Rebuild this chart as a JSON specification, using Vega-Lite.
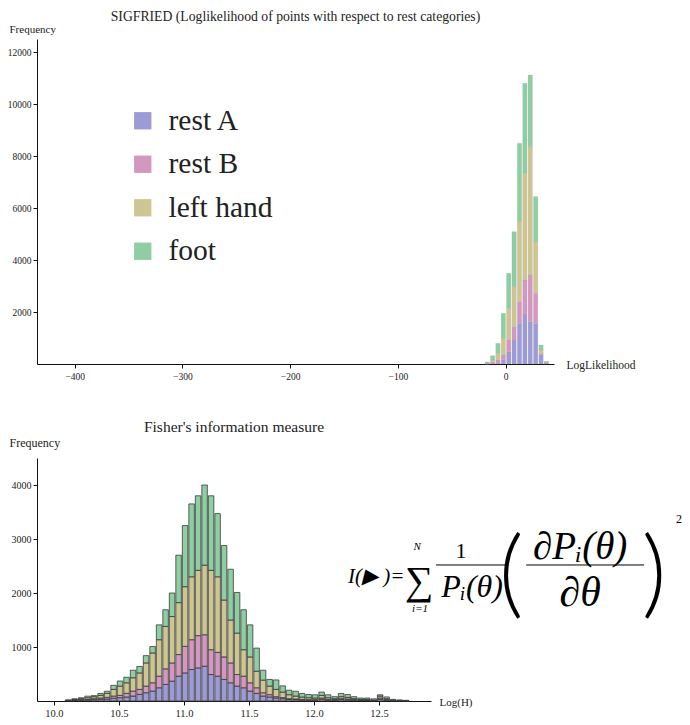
{
  "$schema": "https://vega.github.io/schema/vega-lite/v6.json",
  "padding": {"left": 7, "top": 10, "right": 5, "bottom": 5},
  "config": {
    "font": "Liberation Serif",
    "view": {"stroke": null},
    "axis": {"grid": false, "domainColor": "#111", "tickColor": "#111", "labelColor": "#222", "titleColor": "#222", "labelFont": "Liberation Serif", "titleFont": "Liberation Serif", "titleFontWeight": "normal"},
    "title": {"font": "Liberation Serif", "fontWeight": "normal", "color": "#222"}
  },
  "spacing": 38,
  "resolve": {"scale": {"color": "independent"}, "legend": {"color": "independent"}},
  "vconcat": [
    {
      "title": {"text": "SIGFRIED (Loglikelihood of points with respect to rest categories)", "offset": -1, "fontSize": 13.7},
      "width": 517,
      "height": 325,
      "data": {"values": [
        {"b": -20, "e": -15, "rest A": 0, "rest B": 5, "left hand": 15, "foot": 60},
        {"b": -15, "e": -10, "rest A": 30, "rest B": 60, "left hand": 60, "foot": 170},
        {"b": -10, "e": -5, "rest A": 30, "rest B": 130, "left hand": 250, "foot": 385},
        {"b": -5, "e": 0, "rest A": 160, "rest B": 190, "left hand": 640, "foot": 960},
        {"b": 0, "e": 5, "rest A": 470, "rest B": 450, "left hand": 1220, "foot": 1350},
        {"b": 5, "e": 10, "rest A": 920, "rest B": 520, "left hand": 1530, "foot": 2120},
        {"b": 10, "e": 15, "rest A": 1560, "rest B": 840, "left hand": 3070, "foot": 3020},
        {"b": 15, "e": 20, "rest A": 1950, "rest B": 1280, "left hand": 4100, "foot": 3470},
        {"b": 20, "e": 25, "rest A": 1630, "rest B": 1790, "left hand": 4940, "foot": 2755},
        {"b": 25, "e": 30, "rest A": 1560, "rest B": 1160, "left hand": 1980, "foot": 1740},
        {"b": 30, "e": 35, "rest A": 350, "rest B": 60, "left hand": 130, "foot": 190},
        {"b": 35, "e": 40, "rest A": 50, "rest B": 20, "left hand": 20, "foot": 10}
      ]},
      "transform": [
        {"fold": ["rest A", "rest B", "left hand", "foot"], "as": ["s", "n"]},
        {"calculate": "indexof(['rest A','rest B','left hand','foot'], datum.s)", "as": "o"}
      ],
      "mark": {"type": "bar", "stroke": "#999", "strokeWidth": 0.3, "strokeOpacity": 0.5},
      "encoding": {
        "x": {"field": "b", "type": "quantitative", "bin": "binned",
          "scale": {"domain": [-435, 45], "nice": false, "zero": false},
          "axis": {"values": [-400, -300, -200, -100, 0], "format": "d", "labelFontSize": 9.5, "tickSize": 4, "labelPadding": 3,
            "title": "LogLikelihood", "titleFontSize": 11.5, "titleAlign": "left", "titleBaseline": "middle", "titleX": 529, "titleY": 1}},
        "x2": {"field": "e"},
        "y": {"field": "n", "type": "quantitative", "stack": "zero",
          "scale": {"domain": [0, 12500], "nice": false},
          "axis": {"values": [2000, 4000, 6000, 8000, 10000, 12000], "format": "d", "labelFontSize": 9.5, "tickSize": 4, "labelPadding": 2,
            "title": "Frequency", "titleFontSize": 11, "titleAngle": 0, "titleAlign": "left", "titleBaseline": "middle", "titleX": -28, "titleY": -10}},
        "order": {"field": "o", "type": "quantitative"},
        "color": {"field": "s", "type": "nominal", "sort": ["rest A", "rest B", "left hand", "foot"],
          "scale": {"domain": ["rest A", "rest B", "left hand", "foot"], "range": ["#9d9bd6", "#d498c0", "#cec692", "#8fcda3"]},
          "legend": {"title": null, "orient": "none", "legendX": 91, "legendY": 67, "padding": 0, "symbolType": "square", "symbolSize": 300,
            "symbolStrokeWidth": 0, "labelFont": "Liberation Serif", "labelFontSize": 29.5, "labelColor": "#222", "labelOffset": 11, "rowPadding": 12.5}}
      }
    },
    {
      "title": {"text": "Fisher's information measure", "offset": 1, "fontSize": 15.5},
      "width": 394,
      "height": 243,
      "layer": [
        {
          "data": {"values": [
            {"b": 10.08, "e": 10.13, "rest A": 5, "rest B": 3, "left hand": 4, "foot": 8},
            {"b": 10.13, "e": 10.18, "rest A": 10, "rest B": 8, "left hand": 12, "foot": 10},
            {"b": 10.18, "e": 10.23, "rest A": 12, "rest B": 13, "left hand": 18, "foot": 17},
            {"b": 10.23, "e": 10.28, "rest A": 18, "rest B": 12, "left hand": 31, "foot": 29},
            {"b": 10.28, "e": 10.33, "rest A": 25, "rest B": 18, "left hand": 37, "foot": 20},
            {"b": 10.33, "e": 10.38, "rest A": 30, "rest B": 25, "left hand": 49, "foot": 36},
            {"b": 10.38, "e": 10.43, "rest A": 37, "rest B": 30, "left hand": 74, "foot": 39},
            {"b": 10.43, "e": 10.48, "rest A": 50, "rest B": 42, "left hand": 123, "foot": 75},
            {"b": 10.48, "e": 10.53, "rest A": 61, "rest B": 43, "left hand": 172, "foot": 94},
            {"b": 10.53, "e": 10.58, "rest A": 74, "rest B": 67, "left hand": 196, "foot": 103},
            {"b": 10.58, "e": 10.63, "rest A": 92, "rest B": 92, "left hand": 246, "foot": 140},
            {"b": 10.63, "e": 10.68, "rest A": 123, "rest B": 92, "left hand": 305, "foot": 120},
            {"b": 10.68, "e": 10.73, "rest A": 153, "rest B": 123, "left hand": 429, "foot": 135},
            {"b": 10.73, "e": 10.78, "rest A": 184, "rest B": 153, "left hand": 553, "foot": 120},
            {"b": 10.78, "e": 10.83, "rest A": 245, "rest B": 215, "left hand": 675, "foot": 275},
            {"b": 10.83, "e": 10.88, "rest A": 307, "rest B": 288, "left hand": 785, "foot": 310},
            {"b": 10.88, "e": 10.93, "rest A": 368, "rest B": 337, "left hand": 859, "foot": 436},
            {"b": 10.93, "e": 10.98, "rest A": 460, "rest B": 400, "left hand": 962, "foot": 878},
            {"b": 10.98, "e": 11.03, "rest A": 520, "rest B": 492, "left hand": 1105, "foot": 1133},
            {"b": 11.03, "e": 11.08, "rest A": 583, "rest B": 552, "left hand": 1165, "foot": 1350},
            {"b": 11.08, "e": 11.13, "rest A": 613, "rest B": 597, "left hand": 1210, "foot": 1380},
            {"b": 11.13, "e": 11.18, "rest A": 644, "rest B": 583, "left hand": 1288, "foot": 1485},
            {"b": 11.18, "e": 11.23, "rest A": 490, "rest B": 460, "left hand": 1470, "foot": 1380},
            {"b": 11.23, "e": 11.28, "rest A": 460, "rest B": 440, "left hand": 1400, "foot": 1170},
            {"b": 11.28, "e": 11.33, "rest A": 400, "rest B": 416, "left hand": 1054, "foot": 1010},
            {"b": 11.33, "e": 11.38, "rest A": 337, "rest B": 368, "left hand": 795, "foot": 940},
            {"b": 11.38, "e": 11.43, "rest A": 276, "rest B": 214, "left hand": 768, "foot": 752},
            {"b": 11.43, "e": 11.48, "rest A": 245, "rest B": 215, "left hand": 490, "foot": 740},
            {"b": 11.48, "e": 11.53, "rest A": 184, "rest B": 153, "left hand": 479, "foot": 594},
            {"b": 11.53, "e": 11.58, "rest A": 141, "rest B": 104, "left hand": 307, "foot": 428},
            {"b": 11.58, "e": 11.63, "rest A": 92, "rest B": 61, "left hand": 234, "foot": 183},
            {"b": 11.63, "e": 11.68, "rest A": 74, "rest B": 43, "left hand": 159, "foot": 124},
            {"b": 11.68, "e": 11.73, "rest A": 55, "rest B": 25, "left hand": 135, "foot": 175},
            {"b": 11.73, "e": 11.78, "rest A": 43, "rest B": 18, "left hand": 105, "foot": 114},
            {"b": 11.78, "e": 11.83, "rest A": 30, "rest B": 13, "left hand": 74, "foot": 83},
            {"b": 11.83, "e": 11.88, "rest A": 25, "rest B": 12, "left hand": 55, "foot": 88},
            {"b": 11.88, "e": 11.93, "rest A": 18, "rest B": 12, "left hand": 44, "foot": 66},
            {"b": 11.93, "e": 11.98, "rest A": 12, "rest B": 13, "left hand": 36, "foot": 59},
            {"b": 11.98, "e": 12.03, "rest A": 12, "rest B": 13, "left hand": 30, "foot": 60},
            {"b": 12.03, "e": 12.08, "rest A": 30, "rest B": 25, "left hand": 49, "foot": 61},
            {"b": 12.08, "e": 12.13, "rest A": 18, "rest B": 12, "left hand": 31, "foot": 54},
            {"b": 12.13, "e": 12.18, "rest A": 12, "rest B": 13, "left hand": 18, "foot": 37},
            {"b": 12.18, "e": 12.23, "rest A": 25, "rest B": 18, "left hand": 37, "foot": 60},
            {"b": 12.23, "e": 12.28, "rest A": 18, "rest B": 19, "left hand": 30, "foot": 53},
            {"b": 12.28, "e": 12.33, "rest A": 12, "rest B": 13, "left hand": 18, "foot": 37},
            {"b": 12.33, "e": 12.38, "rest A": 12, "rest B": 6, "left hand": 12, "foot": 25},
            {"b": 12.38, "e": 12.43, "rest A": 10, "rest B": 8, "left hand": 12, "foot": 25},
            {"b": 12.43, "e": 12.48, "rest A": 5, "rest B": 5, "left hand": 8, "foot": 22},
            {"b": 12.48, "e": 12.53, "rest A": 30, "rest B": 25, "left hand": 37, "foot": 23},
            {"b": 12.53, "e": 12.58, "rest A": 12, "rest B": 13, "left hand": 18, "foot": 32},
            {"b": 12.58, "e": 12.63, "rest A": 4, "rest B": 4, "left hand": 7, "foot": 15},
            {"b": 12.63, "e": 12.68, "rest A": 3, "rest B": 2, "left hand": 5, "foot": 10},
            {"b": 12.68, "e": 12.73, "rest A": 2, "rest B": 1, "left hand": 3, "foot": 6}
          ]},
          "transform": [
            {"fold": ["rest A", "rest B", "left hand", "foot"], "as": ["s", "n"]},
            {"calculate": "indexof(['rest A','rest B','left hand','foot'], datum.s)", "as": "o"}
          ],
          "mark": {"type": "bar", "stroke": "#333", "strokeWidth": 0.9, "strokeOpacity": 0.85},
          "encoding": {
            "x": {"field": "b", "type": "quantitative", "bin": "binned",
              "scale": {"domain": [9.87, 12.9], "nice": false, "zero": false},
              "axis": {"values": [10, 10.5, 11, 11.5, 12, 12.5], "format": ".1f", "labelFontSize": 10.5, "tickSize": 4, "labelPadding": 3,
                "title": "Log(H)", "titleFontSize": 11, "titleAlign": "left", "titleBaseline": "middle", "titleX": 402, "titleY": 1}},
            "x2": {"field": "e"},
            "y": {"field": "n", "type": "quantitative", "stack": "zero",
              "scale": {"domain": [0, 4500], "nice": false},
              "axis": {"values": [1000, 2000, 3000, 4000], "format": "d", "labelFontSize": 10, "tickSize": 4, "labelPadding": 2,
                "title": "Frequency", "titleFontSize": 12, "titleAngle": 0, "titleAlign": "left", "titleBaseline": "middle", "titleX": -28, "titleY": -16}},
            "order": {"field": "o", "type": "quantitative"},
            "color": {"field": "s", "type": "nominal",
              "scale": {"domain": ["rest A", "rest B", "left hand", "foot"], "range": ["#9d9bd6", "#d498c0", "#cec692", "#8fcda3"]},
              "legend": null}
          }
        },
        {
          "data": {"values": [{"x": 12.478, "y": 2296, "t": "I(▶ )="}]},
          "mark": {"type": "text", "fontSize": 21, "fontStyle": "italic", "color": "#000", "baseline": "middle"},
          "encoding": {"x": {"field": "x", "type": "quantitative"}, "y": {"field": "y", "type": "quantitative"}, "text": {"field": "t"}}
        },
        {
          "data": {"values": [{"x": 12.808, "y": 2204, "t": "∑"}]},
          "mark": {"type": "text", "fontSize": 40, "color": "#000", "baseline": "middle"},
          "encoding": {"x": {"field": "x", "type": "quantitative"}, "y": {"field": "y", "type": "quantitative"}, "text": {"field": "t"}}
        },
        {
          "data": {"values": [{"x": 12.793, "y": 2852, "t": "N"}, {"x": 12.816, "y": 1704, "t": "i=1"}]},
          "mark": {"type": "text", "fontSize": 11, "fontStyle": "italic", "color": "#000", "baseline": "middle"},
          "encoding": {"x": {"field": "x", "type": "quantitative"}, "y": {"field": "y", "type": "quantitative"}, "text": {"field": "t"}}
        },
        {
          "data": {"values": [{"x": 13.131, "y": 2778, "t": "1"}]},
          "mark": {"type": "text", "fontSize": 22, "color": "#000", "baseline": "middle"},
          "encoding": {"x": {"field": "x", "type": "quantitative"}, "y": {"field": "y", "type": "quantitative"}, "text": {"field": "t"}}
        },
        {
          "data": {"values": [{"x": 13.216, "y": 2111, "t": "Pᵢ(θ)"}]},
          "mark": {"type": "text", "fontSize": 32, "fontStyle": "italic", "color": "#000", "baseline": "middle"},
          "encoding": {"x": {"field": "x", "type": "quantitative"}, "y": {"field": "y", "type": "quantitative"}, "text": {"field": "t"}}
        },
        {
          "data": {"values": [{"x": 14.047, "y": 2850, "t": "∂Pᵢ(θ)"}]},
          "mark": {"type": "text", "fontSize": 39, "fontStyle": "italic", "color": "#000", "baseline": "middle"},
          "encoding": {"x": {"field": "x", "type": "quantitative"}, "y": {"field": "y", "type": "quantitative"}, "text": {"field": "t"}}
        },
        {
          "data": {"values": [{"x": 14.047, "y": 2000, "t": "∂θ"}]},
          "mark": {"type": "text", "fontSize": 42, "fontStyle": "italic", "color": "#000", "baseline": "middle"},
          "encoding": {"x": {"field": "x", "type": "quantitative"}, "y": {"field": "y", "type": "quantitative"}, "text": {"field": "t"}}
        },
        {
          "data": {"values": [{"x": 13.516, "y": 2296, "t": "("}, {"x": 14.616, "y": 2296, "t": ")"}]},
          "mark": {"type": "text", "fontSize": 96, "fontWeight": 300, "color": "#000", "baseline": "middle", "font": "Lato"},
          "encoding": {"x": {"field": "x", "type": "quantitative"}, "y": {"field": "y", "type": "quantitative"}, "text": {"field": "t"}}
        },
        {
          "data": {"values": [{"x": 14.808, "y": 3370, "t": "2"}]},
          "mark": {"type": "text", "fontSize": 12, "color": "#000", "baseline": "middle"},
          "encoding": {"x": {"field": "x", "type": "quantitative"}, "y": {"field": "y", "type": "quantitative"}, "text": {"field": "t"}}
        },
        {
          "data": {"values": [{"x": 12.939, "x2": 13.501, "y": 2519}, {"x": 13.632, "x2": 14.539, "y": 2519}]},
          "mark": {"type": "rule", "color": "#000", "strokeWidth": 1},
          "encoding": {"x": {"field": "x", "type": "quantitative"}, "x2": {"field": "x2"}, "y": {"field": "y", "type": "quantitative"}}
        }
      ]
    }
  ]
}
